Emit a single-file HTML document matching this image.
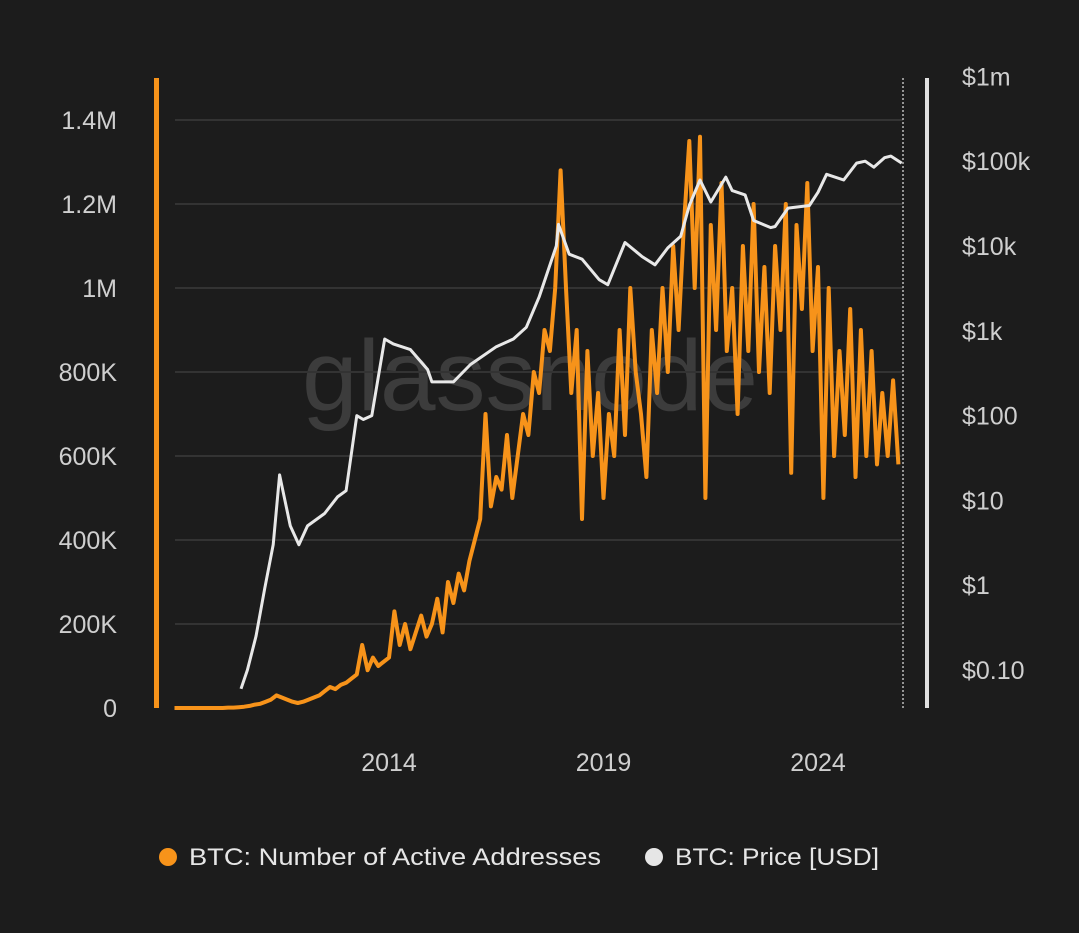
<!DOCTYPE html>
<html><head><meta charset="utf-8">
<style>
html,body{margin:0;padding:0;background:#1c1c1c;}
svg{display:block;font-family:"Liberation Sans",sans-serif;}
</style></head>
<body>
<svg id="chart" width="1079" height="933" viewBox="0 0 1079 933" xmlns="http://www.w3.org/2000/svg">
<rect width="1079" height="933" fill="#1c1c1c"/>
<text x="530" y="410" font-size="100" fill="#3c3c3c" text-anchor="middle">glassnode</text>
<g id="grid"></g>
<rect x="154" y="78" width="5" height="630" fill="#f7931a"/>
<rect x="925" y="78" width="4" height="630" fill="#e0e0e0"/>
<line x1="903" y1="78" x2="903" y2="708" stroke="#bbb" stroke-width="1.5" stroke-dasharray="2,2"/>
<g id="series"></g>
<g id="labels"></g>
<g>
<circle cx="168" cy="857" r="9" fill="#f7931a"/>
<text x="189" y="865" font-size="24" fill="#e6e6e6" textLength="412" lengthAdjust="spacingAndGlyphs">BTC: Number of Active Addresses</text>
<circle cx="654" cy="857" r="9" fill="#e6e6e6"/>
<text x="675" y="865" font-size="24" fill="#e6e6e6" textLength="204" lengthAdjust="spacingAndGlyphs">BTC: Price [USD]</text>
</g>
</svg>
<script>
const leftTicks=[0,200,400,600,800,1000,1200,1400];
const leftTickLabels=["0","200K","400K","600K","800K","1M","1.2M","1.4M"];
const rightTicks=[-1,0,1,2,3,4,5,6];
const rightTickLabels=["$0.10","$1","$10","$100","$1k","$10k","$100k","$1m"];
const xTicks=[2014,2019,2024];
const addrStart=2009.0, addrStep=0.125;
const addrValues=[0,0,0,0,0,0,0,0, 0,0,1,1,2,3,5,8,
10,15,20,30,25,20,15,12, 15,20,25,30,40,50,45,55,
60,70,80,150,90,120,100,110, 120,230,150,200,140,180,220,170,
200,260,180,300,250,320,280,350, 400,450,700,480,550,520,650,500,
600,700,650,800,750,900,850,1000, 1280,1000,750,900,450,850,600,750,
500,700,600,900,650,1000,800,700, 550,900,750,1000,800,1100,900,1150,
1350,1000,1360,500,1150,900,1250,850, 1000,700,1100,850,1200,800,1050,750,
1100,900,1200,560,1150,950,1250,850, 1050,500,1000,600,850,650,950,550,
900,600,850,580,750,600,780,580];
const priceYears=[2010.55,2010.7,2010.9,2011.1,2011.3,2011.45,2011.5,2011.7,2011.9,2012.1,2012.5,2012.8,2013.0,2013.25,2013.4,2013.6,2013.9,2014.1,2014.5,2014.9,2015.0,2015.5,2015.9,2016.5,2016.9,2017.2,2017.5,2017.9,2017.95,2018.2,2018.5,2018.9,2019.1,2019.5,2019.9,2020.2,2020.5,2020.8,2021.0,2021.25,2021.5,2021.85,2022.0,2022.3,2022.5,2022.9,2023.0,2023.3,2023.8,2024.0,2024.2,2024.6,2024.9,2025.1,2025.3,2025.55,2025.7,2025.95];
const priceValues=[0.06,0.1,0.25,0.9,3,20,15,5,3,5,7,11,13,100,90,100,800,700,600,350,250,250,400,650,800,1100,2500,10000,18000,8000,7000,4000,3500,11000,7500,6000,9500,13000,30000,60000,33000,65000,45000,40000,20000,16500,17000,28000,30000,43000,70000,60000,95000,100000,85000,110000,115000,95000];

const NS="http://www.w3.org/2000/svg";
const x=yr=>389+(yr-2014)*42.9;
const yL=v=>708-v*0.42;
const yR=p=>670-(Math.log10(p)+1)*84.8;
function mk(tag,attrs,parent){const e=document.createElementNS(NS,tag);for(const k in attrs)e.setAttribute(k,attrs[k]);parent.appendChild(e);return e;}
const grid=document.getElementById('grid'),labels=document.getElementById('labels'),series=document.getElementById('series');
leftTicks.forEach((t,i)=>{
  if(t>0){const l=mk('line',{x1:175,x2:903,y1:yL(t),y2:yL(t),stroke:'#333',"stroke-width":2},grid);
  
  }
  const tx=mk('text',{x:117,y:yL(t)+9,"font-size":25,fill:'#cfcfcf',"text-anchor":'end'},labels);
  tx.textContent=leftTickLabels[i];
  
  
});
rightTicks.forEach((t,i)=>{
  const tx=mk('text',{x:962,y:yR(Math.pow(10,t))+9,"font-size":25,fill:'#cfcfcf'},labels);
  tx.textContent=rightTickLabels[i];
  
  
});
xTicks.forEach(t=>{
  const tx=mk('text',{x:x(t),y:771,"font-size":25,fill:'#cfcfcf',"text-anchor":'middle'},labels);
  tx.textContent=t;
  
  
});
let d='';addrValues.forEach((v,i)=>{d+=(i?'L':'M')+x(addrStart+i*addrStep).toFixed(1)+','+yL(v).toFixed(1);});
const a=mk('path',{d:d,fill:'none',stroke:'#f7931a',"stroke-width":4,"stroke-linejoin":'round'},series);


let d2='';priceValues.forEach((v,i)=>{d2+=(i?'L':'M')+x(priceYears[i]).toFixed(1)+','+yR(v).toFixed(1);});
const p=mk('path',{d:d2,fill:'none',stroke:'#e8e8e8',"stroke-width":3,"stroke-linejoin":'round'},series);


</script>
</body></html>
